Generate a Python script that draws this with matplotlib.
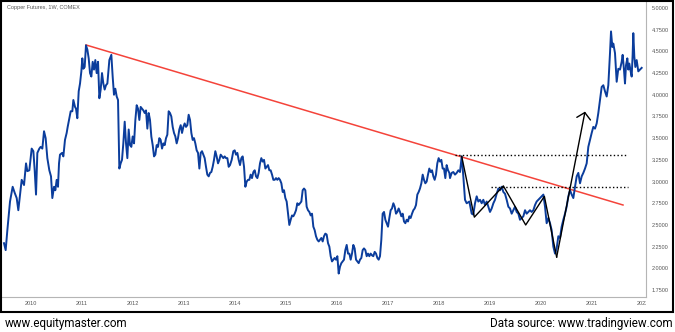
import matplotlib.pyplot as plt
from matplotlib.patches import Rectangle
from matplotlib.transforms import Bbox, TransformedBbox

# weekly COMEX copper closes (decimal year, USD/lb)
t_2009_2013 = [2009.470, 2009.503, 2009.536, 2009.588, 2009.640, 2009.680, 2009.719, 2009.751,
               2009.784, 2009.817, 2009.863, 2009.902, 2009.928, 2009.967, 2010.013, 2010.046,
               2010.072, 2010.098, 2010.124, 2010.163, 2010.189, 2010.222, 2010.255, 2010.287,
               2010.320, 2010.359, 2010.392, 2010.418, 2010.451, 2010.477, 2010.503, 2010.529,
               2010.549, 2010.568, 2010.608, 2010.634, 2010.666, 2010.699, 2010.719, 2010.751,
               2010.778, 2010.810, 2010.830, 2010.863, 2010.882, 2010.908, 2010.935, 2010.961,
               2010.987, 2011.006, 2011.026, 2011.052, 2011.078, 2011.105, 2011.131, 2011.157,
               2011.183, 2011.209, 2011.235, 2011.261, 2011.287, 2011.314, 2011.340, 2011.366,
               2011.392, 2011.418, 2011.444, 2011.470, 2011.497, 2011.536, 2011.575, 2011.601,
               2011.627, 2011.653, 2011.680, 2011.706, 2011.732, 2011.758, 2011.784, 2011.810,
               2011.837, 2011.863, 2011.889, 2011.915, 2011.941, 2011.967, 2011.993, 2012.020,
               2012.046, 2012.072, 2012.098, 2012.124, 2012.150, 2012.176, 2012.203, 2012.229,
               2012.255, 2012.281, 2012.307, 2012.333, 2012.359, 2012.386, 2012.412, 2012.438,
               2012.464, 2012.490, 2012.516, 2012.542, 2012.569, 2012.595, 2012.621, 2012.647,
               2012.673, 2012.699, 2012.725, 2012.751, 2012.778, 2012.804, 2012.830, 2012.856,
               2012.882, 2012.908, 2012.935, 2012.961, 2012.987, 2013.013, 2013.039, 2013.065,
               2013.091, 2013.118, 2013.144, 2013.170, 2013.196, 2013.222, 2013.248, 2013.275,
               2013.301, 2013.327, 2013.353, 2013.379, 2013.405, 2013.431, 2013.457, 2013.484,
               2013.510, 2013.536, 2013.562, 2013.588, 2013.614, 2013.640, 2013.667, 2013.693,
               2013.719, 2013.745, 2013.771, 2013.797, 2013.824, 2013.850, 2013.876, 2013.902]
p_2009_2013 = [2.29, 2.21, 2.44, 2.77, 2.94, 2.87, 2.81, 2.67,
               2.85, 3.02, 2.96, 3.21, 3.12, 3.13, 3.38, 3.35,
               3.13, 2.85, 3.33, 3.38, 3.40, 3.38, 3.58, 3.50,
               3.27, 3.13, 3.06, 2.81, 2.94, 2.90, 3.02, 2.94,
               3.21, 3.31, 3.33, 3.29, 3.48, 3.56, 3.63, 3.73,
               3.81, 3.81, 3.94, 3.86, 3.84, 3.73, 4.04, 4.13,
               4.27, 4.42, 4.30, 4.32, 4.57, 4.52, 4.42, 4.25,
               4.21, 4.38, 4.29, 4.40, 4.25, 4.38, 3.96, 4.06,
               4.25, 4.13, 4.06, 4.11, 4.13, 4.40, 4.46, 4.21,
               4.00, 4.07, 3.98, 3.94, 3.15, 3.21, 3.25, 3.44,
               3.69, 3.44, 3.27, 3.60, 3.42, 3.40, 3.52, 3.44,
               3.71, 3.88, 3.84, 3.71, 3.86, 3.84, 3.82, 3.79,
               3.82, 3.61, 3.79, 3.71, 3.52, 3.42, 3.29, 3.31,
               3.42, 3.40, 3.50, 3.48, 3.38, 3.44, 3.42, 3.50,
               3.54, 3.81, 3.79, 3.75, 3.63, 3.56, 3.52, 3.44,
               3.50, 3.60, 3.65, 3.56, 3.63, 3.67, 3.63, 3.65,
               3.77, 3.71, 3.56, 3.48, 3.50, 3.44, 3.36, 3.33,
               3.15, 3.33, 3.35, 3.31, 3.27, 3.17, 3.08, 3.06,
               3.10, 3.11, 3.17, 3.25, 3.35, 3.29, 3.21, 3.25,
               3.31, 3.29, 3.27, 3.29, 3.27, 3.27, 3.17, 3.19]

t_2014_2018 = [2013.935, 2013.967, 2013.994, 2014.020, 2014.046, 2014.072, 2014.098, 2014.124,
               2014.150, 2014.177, 2014.203, 2014.229, 2014.255, 2014.281, 2014.307, 2014.333,
               2014.360, 2014.386, 2014.412, 2014.438, 2014.464, 2014.490, 2014.516, 2014.543,
               2014.569, 2014.595, 2014.621, 2014.647, 2014.673, 2014.699, 2014.726, 2014.752,
               2014.778, 2014.804, 2014.830, 2014.856, 2014.882, 2014.909, 2014.935, 2014.961,
               2014.987, 2015.013, 2015.039, 2015.065, 2015.092, 2015.118, 2015.144, 2015.170,
               2015.196, 2015.222, 2015.248, 2015.275, 2015.301, 2015.327, 2015.353, 2015.379,
               2015.405, 2015.431, 2015.458, 2015.484, 2015.510, 2015.536, 2015.562, 2015.588,
               2015.614, 2015.641, 2015.667, 2015.693, 2015.719, 2015.745, 2015.771, 2015.797,
               2015.824, 2015.850, 2015.876, 2015.902, 2015.928, 2015.954, 2015.980, 2016.007,
               2016.033, 2016.059, 2016.085, 2016.111, 2016.137, 2016.163, 2016.190, 2016.216,
               2016.242, 2016.268, 2016.294, 2016.320, 2016.346, 2016.373, 2016.399, 2016.425,
               2016.451, 2016.477, 2016.503, 2016.529, 2016.556, 2016.582, 2016.608, 2016.634,
               2016.660, 2016.686, 2016.712, 2016.739, 2016.765, 2016.791, 2016.817, 2016.843,
               2016.869, 2016.895, 2016.922, 2016.948, 2016.974, 2017.000, 2017.026, 2017.052,
               2017.078, 2017.105, 2017.131, 2017.157, 2017.183, 2017.209, 2017.235, 2017.261,
               2017.288, 2017.314, 2017.340, 2017.366, 2017.392, 2017.418, 2017.444, 2017.471,
               2017.497, 2017.523, 2017.549, 2017.575, 2017.601, 2017.627, 2017.654, 2017.680,
               2017.706, 2017.732, 2017.758, 2017.784, 2017.810, 2017.837, 2017.863, 2017.889,
               2017.915, 2017.941, 2017.967, 2017.993, 2018.020, 2018.046, 2018.072, 2018.098,
               2018.124, 2018.150, 2018.177, 2018.203]
p_2014_2018 = [3.25, 3.35, 3.36, 3.31, 3.33, 3.25, 3.19, 3.27,
               3.29, 3.17, 2.94, 3.00, 3.02, 3.02, 3.08, 3.04,
               3.11, 3.13, 3.06, 3.04, 3.10, 3.21, 3.27, 3.23,
               3.25, 3.15, 3.17, 3.19, 3.13, 3.13, 3.08, 3.02,
               3.02, 3.04, 3.02, 3.04, 3.02, 2.98, 2.88, 2.90,
               2.81, 2.77, 2.63, 2.50, 2.56, 2.61, 2.60, 2.63,
               2.67, 2.75, 2.73, 2.75, 2.77, 2.90, 2.92, 2.90,
               2.71, 2.67, 2.65, 2.61, 2.63, 2.48, 2.44, 2.37,
               2.33, 2.31, 2.33, 2.35, 2.31, 2.37, 2.40, 2.39,
               2.29, 2.25, 2.14, 2.08, 2.10, 2.12, 2.10, 2.14,
               1.94, 2.02, 2.06, 2.08, 2.10, 2.21, 2.27, 2.17,
               2.17, 2.10, 2.17, 2.27, 2.23, 2.10, 2.08, 2.06,
               2.10, 2.12, 2.21, 2.23, 2.21, 2.14, 2.17, 2.14,
               2.17, 2.15, 2.14, 2.19, 2.17, 2.12, 2.10, 2.14,
               2.33, 2.63, 2.65, 2.56, 2.52, 2.48, 2.58, 2.67,
               2.69, 2.75, 2.71, 2.63, 2.65, 2.69, 2.65, 2.60,
               2.63, 2.54, 2.52, 2.56, 2.54, 2.60, 2.58, 2.63,
               2.67, 2.69, 2.73, 2.85, 2.88, 2.92, 2.98, 3.08,
               3.02, 2.98, 3.00, 3.08, 3.15, 3.11, 3.13, 3.06,
               3.02, 3.08, 3.21, 3.27, 3.23, 3.25, 3.15, 3.15,
               3.04, 3.19, 3.13, 3.10]

t_2018_2022 = [2018.216, 2018.249, 2018.281, 2018.314, 2018.347, 2018.379, 2018.412, 2018.445,
               2018.477, 2018.510, 2018.543, 2018.595, 2018.641, 2018.673, 2018.706, 2018.739,
               2018.771, 2018.804, 2018.837, 2018.869, 2018.902, 2018.935, 2018.967, 2019.000,
               2019.033, 2019.066, 2019.098, 2019.131, 2019.164, 2019.196, 2019.229, 2019.262,
               2019.294, 2019.327, 2019.360, 2019.392, 2019.425, 2019.458, 2019.490, 2019.523,
               2019.556, 2019.588, 2019.621, 2019.654, 2019.687, 2019.719, 2019.752, 2019.784,
               2019.817, 2019.850, 2019.883, 2019.915, 2019.948, 2019.981, 2020.014, 2020.046,
               2020.079, 2020.111, 2020.144, 2020.177, 2020.209, 2020.242, 2020.275, 2020.307,
               2020.340, 2020.373, 2020.405, 2020.438, 2020.471, 2020.503, 2020.536, 2020.569,
               2020.602, 2020.634, 2020.667, 2020.700, 2020.732, 2020.765, 2020.798, 2020.830,
               2020.863, 2020.896, 2020.928, 2020.961, 2020.994, 2021.026, 2021.059, 2021.092,
               2021.124, 2021.157, 2021.190, 2021.222, 2021.255, 2021.288, 2021.320, 2021.353,
               2021.373, 2021.399, 2021.418, 2021.451, 2021.484, 2021.516, 2021.549, 2021.582,
               2021.601, 2021.627, 2021.647, 2021.667, 2021.693, 2021.712, 2021.732, 2021.758,
               2021.778, 2021.797, 2021.810, 2021.830, 2021.850, 2021.876, 2021.908, 2021.941,
               2021.974]
p_2018_2022 = [3.04, 3.10, 3.11, 3.08, 3.10, 3.13, 3.11, 3.29,
               3.06, 2.79, 2.75, 2.77, 2.63, 2.62, 2.75, 2.83,
               2.77, 2.79, 2.75, 2.79, 2.73, 2.77, 2.71, 2.65,
               2.69, 2.75, 2.79, 2.86, 2.92, 2.90, 2.94, 2.88,
               2.86, 2.79, 2.71, 2.69, 2.63, 2.67, 2.71, 2.65,
               2.63, 2.56, 2.58, 2.60, 2.67, 2.63, 2.65, 2.67,
               2.65, 2.67, 2.73, 2.77, 2.79, 2.81, 2.83, 2.85,
               2.71, 2.52, 2.58, 2.52, 2.44, 2.25, 2.17, 2.23,
               2.37, 2.35, 2.48, 2.56, 2.63, 2.71, 2.83, 2.90,
               2.85, 2.81, 2.94, 3.06, 3.10, 2.98, 3.06, 3.10,
               3.15, 3.21, 3.40, 3.48, 3.56, 3.63, 3.61, 3.67,
               3.79, 3.94, 4.09, 4.11, 4.04, 3.98, 4.11, 4.48,
               4.73, 4.55, 4.59, 4.48, 4.15, 4.30, 4.29, 4.38,
               4.46, 4.29, 4.13, 4.34, 4.42, 4.29, 4.36, 4.27,
               4.21, 4.46, 4.71, 4.44, 4.32, 4.40, 4.27, 4.29,
               4.31]

# drawn annotations
trend_t = [2011.078, 2021.608]
trend_p = [4.574, 2.730]
pattern_t = [2018.445, 2018.693, 2019.262, 2019.700, 2020.066, 2020.307]
pattern_p = [3.29, 2.59, 2.95, 2.50, 2.83, 2.13]
breakout_tip = (2020.863, 3.806)
levels = [3.31, 2.94]
level_start = [2018.314, 2019.020]
level_end = 2021.706

years = list(range(2010, 2023))
price_ticks = [1.75, 2.0, 2.25, 2.5, 2.75, 3.0, 3.25, 3.5, 3.75, 4.0, 4.25, 4.5, 4.75, 5.0]

t_all = t_2009_2013 + t_2014_2018 + t_2018_2022
p_all = p_2009_2013 + p_2014_2018 + p_2018_2022

fig = plt.figure(figsize=(6.75, 3.32), dpi=100)
ax = fig.add_axes([2 / 675, 35 / 332, 644 / 675, 295 / 332])

ax.plot(t_all, p_all, color='#0b3d9c', lw=1.4, solid_joinstyle='round', zorder=3)
ax.plot(trend_t, trend_p, color='#f4433a', lw=1.1, zorder=2)
ax.plot(pattern_t, pattern_p, color='black', lw=1.0, zorder=4)
ax.annotate('', xy=breakout_tip, xytext=(pattern_t[-1], pattern_p[-1]),
            arrowprops=dict(arrowstyle='->,head_length=0.45,head_width=0.5',
                            color='black', lw=1.0, shrinkA=0, shrinkB=0),
            zorder=4)
for lv, t0 in zip(levels, level_start):
    ax.hlines(lv, t0, level_end, colors='black', linestyles=':', lw=1.0, zorder=4)

ax.set_xlim(2009.431, 2022.059)
ax.set_ylim(1.670, 5.069)

for side in ['left', 'top']:
    ax.spines[side].set_visible(False)
for side in ['right', 'bottom']:
    ax.spines[side].set_color('#b5b5b5')
    ax.spines[side].set_linewidth(0.8)

ax.yaxis.tick_right()
ax.set_yticks(price_ticks)
ax.set_yticklabels(['%.4f' % v for v in price_ticks])
ax.set_xticks(years)
ax.set_xticklabels([str(y) for y in years])
ax.tick_params(axis='y', length=0, pad=4, labelsize=4, labelcolor='#555555')
ax.tick_params(axis='x', length=0, pad=3.2, labelsize=4, labelcolor='#555555')
for lbl in ax.get_yticklabels() + ax.get_xticklabels():
    lbl.set_fontfamily('Liberation Sans')

# year labels are cut off where the price scale begins
clip = TransformedBbox(Bbox.from_extents(0, 0, 646 / 675, 1), fig.transFigure)
for lbl in ax.get_xticklabels():
    lbl.set_clip_box(clip)
    lbl.set_clip_on(True)

fig.text(7 / 675, 1 - 8 / 332, 'Copper Futures, 1W, COMEX', fontsize=4,
         color='#555555', family='Liberation Sans', va='center')

fig.patches.append(Rectangle((1 / 675, 20 / 332), 672 / 675, 311 / 332,
                             transform=fig.transFigure, fill=False,
                             edgecolor='black', lw=1.5))

fig.text(5 / 675, 1 - 323 / 332, 'www.equitymaster.com', fontsize=8.4,
         family='Roboto', color='black', va='center')
fig.text(673 / 675, 1 - 323 / 332, 'Data source: www.tradingview.com', fontsize=8.4,
         family='Roboto', color='black', va='center', ha='right')

fig.savefig('out.png', dpi=100)
